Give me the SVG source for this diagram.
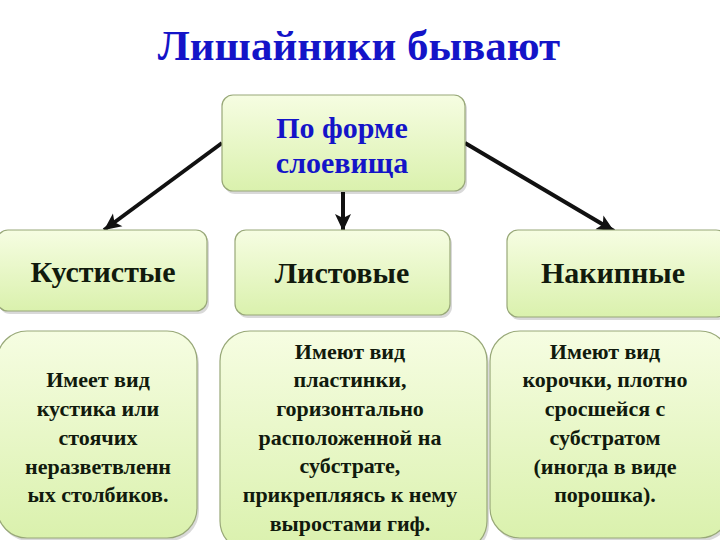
<svg xmlns="http://www.w3.org/2000/svg" width="720" height="540" viewBox="0 0 720 540">
<defs>
<linearGradient id="g" x1="0" y1="0" x2="0" y2="1">
<stop offset="0" stop-color="#f6fde2"/>
<stop offset="1" stop-color="#daf1ad"/>
</linearGradient>
<marker id="ah" markerUnits="userSpaceOnUse" markerWidth="18" markerHeight="18" viewBox="0 0 18 18" refX="17" refY="9" orient="auto">
<path d="M0,1 L17,9 L0,17 L4,9 Z" fill="#111"/>
</marker>
</defs>
<rect width="720" height="540" fill="#fff"/>
<text x="359" y="60" font-size="43" font-family="Liberation Serif" font-weight="bold" text-anchor="middle" fill="#1414c8">Лишайники бывают</text>
<g id="connectors" stroke="#111" stroke-width="4" fill="none" marker-end="url(#ah)">
<line x1="222" y1="143" x2="104" y2="230"/>
<line x1="343" y1="192" x2="343" y2="231"/>
<line x1="465" y1="143" x2="614" y2="231"/>
</g>
<g id="root">
<rect x="224" y="98" width="243" height="96" rx="11" fill="#000" opacity="0.15"/>
<rect x="222" y="95" width="243" height="96" rx="11" fill="url(#g)" stroke="#98a878" stroke-width="1.2"/>
<text x="342" y="138" font-size="30" font-family="Liberation Serif" font-weight="bold" text-anchor="middle" fill="#1414c8">По форме</text>
<text x="342" y="173" font-size="30" font-family="Liberation Serif" font-weight="bold" text-anchor="middle" fill="#1414c8">слоевища</text>
</g>
<g id="kust">
<rect x="-1" y="233" width="210" height="81" rx="11" fill="#000" opacity="0.15"/>
<rect x="-3" y="230" width="210" height="81" rx="11" fill="url(#g)" stroke="#98a878" stroke-width="1.2"/>
<text x="103" y="282" font-size="30" font-family="Liberation Serif" font-weight="bold" text-anchor="middle" fill="#111a0d">Кустистые</text>
</g>
<g id="list">
<rect x="237" y="233" width="215" height="85" rx="11" fill="#000" opacity="0.15"/>
<rect x="235" y="230" width="215" height="85" rx="11" fill="url(#g)" stroke="#98a878" stroke-width="1.2"/>
<text x="342" y="283" font-size="30" font-family="Liberation Serif" font-weight="bold" text-anchor="middle" fill="#111a0d">Листовые</text>
</g>
<g id="nakip">
<rect x="509" y="233" width="220" height="87" rx="11" fill="#000" opacity="0.15"/>
<rect x="507" y="230" width="220" height="87" rx="11" fill="url(#g)" stroke="#98a878" stroke-width="1.2"/>
<text x="613" y="283" font-size="30" font-family="Liberation Serif" font-weight="bold" text-anchor="middle" fill="#111a0d">Накипные</text>
</g>
<g id="kust-desc">
<rect x="-1" y="334" width="200" height="207" rx="30" fill="#000" opacity="0.15"/>
<rect x="-3" y="331" width="200" height="207" rx="30" fill="url(#g)" stroke="#98a878" stroke-width="1.2"/>
<text font-size="22" font-family="Liberation Serif" font-weight="bold" text-anchor="middle" fill="#111a0d"><tspan x="98" y="387">Имеет вид</tspan><tspan x="98" y="416">кустика или</tspan><tspan x="98" y="445">стоячих</tspan><tspan x="98" y="474">неразветвленн</tspan><tspan x="98" y="502">ых столбиков.</tspan></text>
</g>
<g id="list-desc">
<rect x="222" y="334" width="267" height="220" rx="30" fill="#000" opacity="0.15"/>
<rect x="220" y="331" width="267" height="220" rx="30" fill="url(#g)" stroke="#98a878" stroke-width="1.2"/>
<text font-size="22" font-family="Liberation Serif" font-weight="bold" text-anchor="middle" fill="#111a0d"><tspan x="350" y="359">Имеют вид</tspan><tspan x="350" y="387">пластинки,</tspan><tspan x="350" y="416">горизонтально</tspan><tspan x="350" y="445">расположенной на</tspan><tspan x="350" y="473">субстрате,</tspan><tspan x="350" y="502">прикрепляясь к нему</tspan><tspan x="350" y="531">выростами гиф.</tspan></text>
</g>
<g id="nakip-desc">
<rect x="492" y="334" width="240" height="207" rx="30" fill="#000" opacity="0.15"/>
<rect x="490" y="331" width="240" height="207" rx="30" fill="url(#g)" stroke="#98a878" stroke-width="1.2"/>
<text font-size="22" font-family="Liberation Serif" font-weight="bold" text-anchor="middle" fill="#111a0d"><tspan x="605" y="359">Имеют вид</tspan><tspan x="605" y="387">корочки, плотно</tspan><tspan x="605" y="416">сросшейся с</tspan><tspan x="605" y="445">субстратом</tspan><tspan x="605" y="474">(иногда в виде</tspan><tspan x="605" y="502">порошка).</tspan></text>
</g>
</svg>
